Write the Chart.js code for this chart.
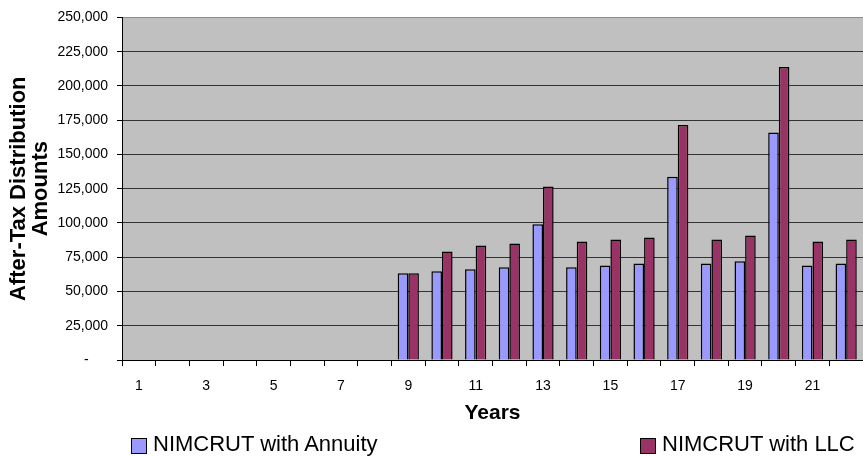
<!DOCTYPE html>
<html>
<head>
<meta charset="utf-8">
<script src="https://cdn.jsdelivr.net/npm/chart.js@4/dist/chart.umd.min.js"></script>
<style>
    html, body { margin: 0; padding: 0; background: #fff; }
    #wrap { position: relative; width: 863px; height: 457px; overflow: hidden; }
    .legend-item { position: absolute; top: 432px; height: 24px; line-height: 24px;
        font-family: 'Liberation Sans', Arial, sans-serif; font-size: 22px; color: #000; white-space: nowrap; }
    .legend-box { position: absolute; top: 6px; width: 14px; height: 14px; border: 1px solid #000; box-sizing: content-box; }
</style>
</head>
<body>
<div id="wrap">
    <canvas id="chart" width="863" height="457"></canvas>
    <div class="legend-item" style="left:131px;">
        <span class="legend-box" style="left:0; background:#9999FF;"></span>
        <span style="position:absolute; left:22px;">NIMCRUT with Annuity</span>
    </div>
    <div class="legend-item" style="left:640px;">
        <span class="legend-box" style="left:0; background:#993366;"></span>
        <span style="position:absolute; left:22px;">NIMCRUT with LLC</span>
    </div>
</div>
<script>
// Chart data
const years = ['1', '2', '3', '4', '5', '6', '7', '8', '9', '10', '11',
    '12', '13', '14', '15', '16', '17', '18', '19', '20', '21', '22'];
const withAnnuity = [0, 0, 0, 0, 0, 0, 0, 0, 63300, 64700, 66200,
    67600, 99000, 67600, 69000, 70500, 133800, 70500, 72000, 166000, 69000, 70500];
const withLLC = [0, 0, 0, 0, 0, 0, 0, 0, 63300, 79200, 83600,
    85000, 126600, 86500, 87900, 89400, 171500, 87900, 90800, 213800, 86500, 87900];
const yTicks = [0, 25000, 50000, 75000, 100000, 125000, 150000, 175000, 200000, 225000, 250000];

const FONT = "'Liberation Sans', Arial, sans-serif";

// Grey plot area background
const plotBackground = {
    id: 'plotBackground',
    beforeDraw(chart) {
        const { ctx, chartArea } = chart;
        ctx.save();
        ctx.fillStyle = '#C0C0C0';
        ctx.fillRect(chartArea.left, chartArea.top, chartArea.right - chartArea.left, chartArea.bottom - chartArea.top);
        ctx.restore();
    }
};

function formatTick(value) {
    if (value === 0) return '-     ';
    return value.toLocaleString('en-US');
}

new Chart(document.getElementById('chart'), {
    type: 'bar',
    data: {
        labels: years,
        datasets: [
            {
                label: 'NIMCRUT with Annuity',
                data: withAnnuity,
                backgroundColor: '#9999FF',
                borderColor: '#000',
                borderWidth: 1.5,
                borderSkipped: 'bottom'
            },
            {
                label: 'NIMCRUT with LLC',
                data: withLLC,
                backgroundColor: '#993366',
                borderColor: '#000',
                borderWidth: 1.5,
                borderSkipped: 'bottom'
            }
        ]
    },
    options: {
        responsive: false,
        animation: false,
        devicePixelRatio: 1,
        categoryPercentage: 0.63,
        barPercentage: 1.0,
        layout: { padding: { top: 15, bottom: 27, left: 0, right: 0 } },
        plugins: {
            legend: { display: false },
            tooltip: { enabled: false }
        },
        scales: {
            x: {
                offset: true,
                grid: {
                    offset: true,
                    drawOnChartArea: false,
                    drawTicks: true,
                    tickLength: 6,
                    color: '#000'
                },
                border: { color: '#000', width: 1 },
                ticks: {
                    autoSkip: false,
                    maxRotation: 0,
                    padding: 12,
                    color: '#000',
                    font: { family: FONT, size: 14 },
                    callback: function (value, index) {
                        return index % 2 === 0 ? years[index] : '';
                    }
                },
                title: {
                    display: true,
                    text: 'Years',
                    color: '#000',
                    font: { family: FONT, size: 21, weight: 'bold' },
                    padding: { top: 0, bottom: 4 }
                },
                afterFit(scale) { scale.height = 70; }
            },
            y: {
                min: 0,
                max: 250000,
                afterBuildTicks(scale) { scale.ticks = yTicks.map(v => ({ value: v })); },
                grid: {
                    color: ctx => (ctx.tick && ctx.tick.value === 250000 ? '#8a8a8a' : '#333'),
                    tickColor: '#000',
                    tickLength: 5
                },
                border: { color: '#000', width: 1 },
                ticks: {
                    padding: 9,
                    color: '#000',
                    font: { family: FONT, size: 14 },
                    callback: formatTick
                },
                title: {
                    display: true,
                    text: ['After-Tax Distribution', 'Amounts'],
                    color: '#000',
                    font: { family: FONT, size: 22, weight: 'bold', lineHeight: 1.0 },
                    padding: { top: 8, bottom: 0 }
                },
                afterFit(scale) { scale.width = 122; }
            }
        }
    },
    plugins: [plotBackground]
});
</script>
</body>
</html>
